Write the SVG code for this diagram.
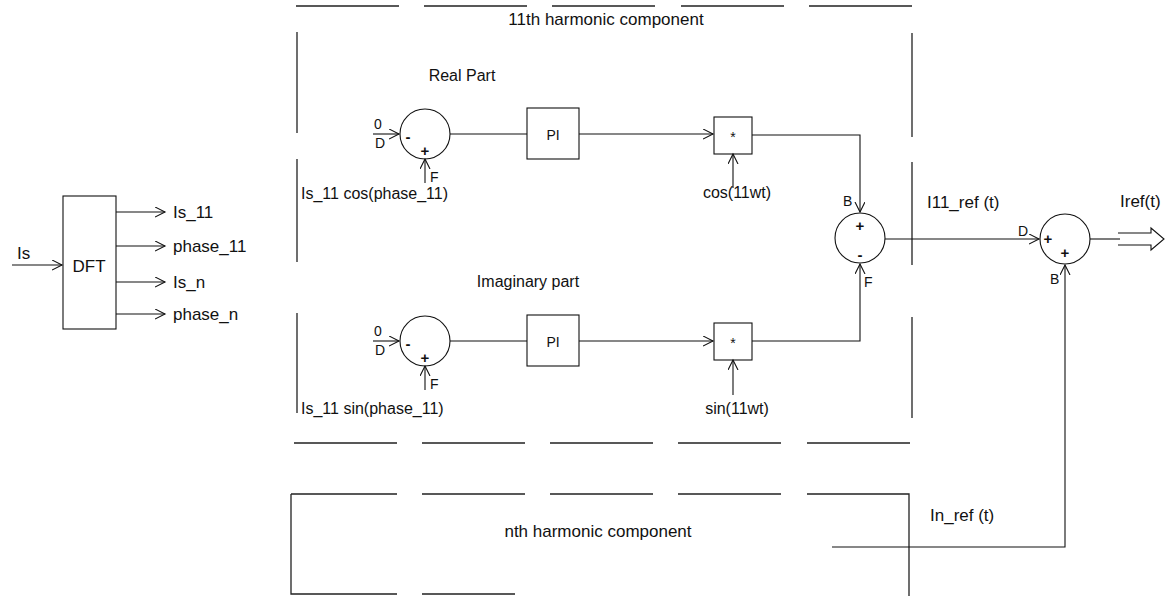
<svg xmlns="http://www.w3.org/2000/svg" width="1166" height="596" viewBox="0 0 1166 596">
<defs>
<marker id="arr" markerWidth="12" markerHeight="12" refX="10" refY="5" orient="auto" markerUnits="userSpaceOnUse">
<path d="M0,0 L10,5 L0,10" fill="none" stroke="#111" stroke-width="1.1"/>
</marker>
<style>
text{font-family:"Liberation Sans",Arial,sans-serif;font-size:17px;fill:#111}
.s{font-size:14px}
.h{font-size:16px}
.sg{font-size:15px;font-weight:bold;text-anchor:middle}
.m{text-anchor:middle}
.ln{stroke:#111;stroke-width:1.1;fill:none}
.bx{stroke:#111;stroke-width:1.1;fill:#fff}
.ds{stroke:#222;stroke-width:1.3;fill:none}
</style>
</defs>
<rect width="1166" height="596" fill="#fff"/>
<g id="box11">
<path class="ds" d="M296,6H399M424,6H527M552,6H655M681,6H784M809,6H912"/>
<path class="ds" d="M297,32V133M297,159V262M297,313V413"/>
<path class="ds" d="M912,33V137M912,162V265M912,317V418"/>
<path class="ds" d="M294,443H397M422,443H525M550,443H653M678,443H781M807,443H910"/>
<text x="606" y="25" class="m">11th harmonic component</text>
<text x="462" y="81" class="m h">Real Part</text>
<text x="528" y="287" class="m h">Imaginary part</text>
</g>
<g id="boxn">
<path class="ds" d="M291,494H397M422,494H525M550,494H653M678,494H781M807,494H909V596M291,494V594H397M422,594H515"/>
<text x="598" y="537" class="m">nth harmonic component</text>
</g>
<g id="dft">
<rect class="bx" x="63" y="196" width="53" height="133"/>
<text x="89" y="272" class="m">DFT</text>
<text x="17" y="259">Is</text>
<text x="173" y="218">Is_11</text>
<text x="173" y="252">phase_11</text>
<text x="173" y="288">Is_n</text>
<text x="173" y="320">phase_n</text>
</g>
<g id="sum1">
<circle class="bx" cx="425" cy="134" r="25"/>
<text x="408" y="142" class="sg">-</text>
<text x="425" y="156" class="sg">+</text>
<text x="374" y="129" class="s">0</text>
<text x="375" y="148" class="s">D</text>
<text x="430" y="182" class="s">F</text>
<text x="301" y="199" class="h">Is_11 cos(phase_11)</text>
</g>
<g id="pi1">
<rect class="bx" x="527" y="108" width="52" height="51"/>
<text x="553" y="140" class="m s">PI</text>
</g>
<g id="mult1">
<rect class="bx" x="714" y="117" width="38" height="37"/>
<text x="733" y="142" class="m s">*</text>
<text x="737" y="198" class="m h">cos(11wt)</text>
</g>
<g id="sum2">
<circle class="bx" cx="425" cy="341" r="25"/>
<text x="408" y="349" class="sg">-</text>
<text x="425" y="363" class="sg">+</text>
<text x="374" y="336" class="s">0</text>
<text x="375" y="355" class="s">D</text>
<text x="430" y="389" class="s">F</text>
<text x="301" y="414" class="h">Is_11 sin(phase_11)</text>
</g>
<g id="pi2">
<rect class="bx" x="527" y="315" width="52" height="51"/>
<text x="553" y="347" class="m s">PI</text>
</g>
<g id="mult2">
<rect class="bx" x="714" y="323" width="38" height="37"/>
<text x="733" y="348" class="m s">*</text>
<text x="737" y="414" class="m h">sin(11wt)</text>
</g>
<g id="sum3">
<circle class="bx" cx="860" cy="238" r="25"/>
<text x="860" y="231" class="sg">+</text>
<text x="860" y="260" class="sg">-</text>
<text x="843" y="206" class="s">B</text>
<text x="864" y="287" class="s">F</text>
<text x="927" y="208">I11_ref (t)</text>
</g>
<g id="sumout">
<circle class="bx" cx="1065" cy="239" r="25"/>
<text x="1048" y="244" class="sg">+</text>
<text x="1065" y="258" class="sg">+</text>
<text x="1018" y="236" class="s">D</text>
<text x="1050" y="284" class="s">B</text>
<text x="1120" y="207">Iref(t)</text>
<text x="930" y="521">In_ref (t)</text>
</g>
<g id="connectors">
<path class="ln" d="M12,265H62" marker-end="url(#arr)"/>
<path class="ln" d="M116,212H165" marker-end="url(#arr)"/>
<path class="ln" d="M116,246H165" marker-end="url(#arr)"/>
<path class="ln" d="M116,282H165" marker-end="url(#arr)"/>
<path class="ln" d="M116,314H165" marker-end="url(#arr)"/>
<path class="ln" d="M373,134H399" marker-end="url(#arr)"/>
<path class="ln" d="M425,183V159" marker-end="url(#arr)"/>
<path class="ln" d="M450,134H527"/>
<path class="ln" d="M579,134H713" marker-end="url(#arr)"/>
<path class="ln" d="M733,188V154" marker-end="url(#arr)"/>
<path class="ln" d="M752,135H860V212" marker-end="url(#arr)"/>
<path class="ln" d="M373,341H399" marker-end="url(#arr)"/>
<path class="ln" d="M425,390V366" marker-end="url(#arr)"/>
<path class="ln" d="M450,341H527"/>
<path class="ln" d="M579,341H713" marker-end="url(#arr)"/>
<path class="ln" d="M733,395V360" marker-end="url(#arr)"/>
<path class="ln" d="M752,341H860V264" marker-end="url(#arr)"/>
<path class="ln" d="M885,239H1039" marker-end="url(#arr)"/>
<path class="ln" d="M832,547H1065V265" marker-end="url(#arr)"/>
<path class="ln" d="M1090,239H1120"/>
<path class="ln" d="M1118,233H1151V228L1164,239L1151,250V245H1118"/>
</g>
</svg>
